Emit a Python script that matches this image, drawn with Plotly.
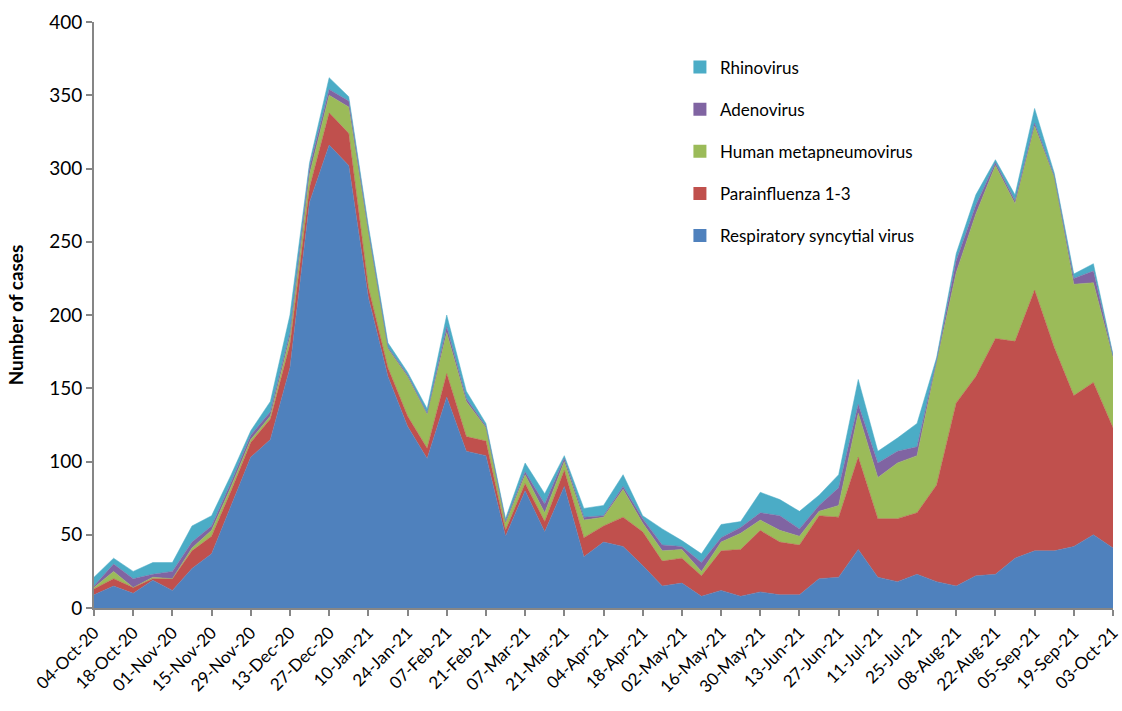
import datetime as dt
import plotly.graph_objects as go

start = dt.date(2020, 10, 4)
weeks = [(start + dt.timedelta(weeks=i)).strftime("%d-%b-%y") for i in range(53)]

rsv = [9, 15, 10, 19, 12, 27, 37, 70, 103, 115, 164, 277, 316, 302, 212, 158, 124, 102, 144, 107,
       104, 49, 80, 52, 83, 35, 45, 42, 29, 15, 17, 8, 12, 8, 11, 9, 9, 20, 21, 40,
       21, 18, 23, 18, 15, 22, 23, 34, 39, 39, 42, 50, 41]
para = [4, 5, 4, 1, 8, 12, 12, 10, 10, 14, 16, 10, 22, 22, 7, 6, 7, 7, 16, 10,
        10, 4, 5, 7, 11, 13, 11, 20, 23, 17, 17, 14, 27, 32, 42, 36, 34, 43, 41, 63,
        40, 43, 42, 66, 125, 136, 161, 148, 178, 139, 103, 104, 82]
hmpv = [1, 5, 0, 1, 0, 2, 4, 3, 2, 2, 5, 9, 12, 18, 37, 13, 27, 23, 28, 24,
        9, 5, 6, 6, 6, 12, 6, 19, 6, 7, 6, 3, 6, 11, 7, 8, 6, 3, 8, 30,
        28, 38, 39, 84, 89, 111, 118, 94, 112, 116, 76, 68, 48]
adeno = [1, 5, 6, 2, 5, 4, 3, 3, 3, 3, 3, 5, 4, 4, 2, 1, 1, 1, 4, 2,
         1, 1, 2, 6, 2, 2, 1, 2, 3, 4, 2, 6, 3, 4, 5, 10, 5, 4, 12, 6,
         10, 8, 6, 1, 8, 6, 2, 2, 2, 1, 4, 8, 1]
rhino = [6, 4, 5, 8, 6, 11, 7, 5, 3, 7, 12, 3, 8, 3, 3, 3, 2, 3, 8, 5,
         2, 2, 6, 7, 2, 6, 7, 8, 2, 11, 4, 6, 9, 4, 14, 11, 12, 7, 9, 17,
         8, 9, 16, 2, 5, 7, 2, 4, 10, 2, 3, 5, 1]

series = [
    ("Respiratory syncytial virus", rsv, "#4F81BD"),
    ("Parainfluenza 1-3", para, "#C0504D"),
    ("Human metapneumovirus", hmpv, "#9BBB59"),
    ("Adenovirus", adeno, "#8064A2"),
    ("Rhinovirus", rhino, "#4BACC6"),
]

FONT = "Lato, 'Open Sans', sans-serif"
fig = go.Figure()
for name, vals, col in series:
    fig.add_trace(go.Scatter(
        x=weeks, y=vals, name=name, stackgroup="one", mode="lines",
        line=dict(width=0.5, color=col), fillcolor=col, showlegend=False,
        hoverinfo="x+y+name"))
for name, vals, col in reversed(series):
    fig.add_trace(go.Scatter(
        x=[None], y=[None], name=name, mode="markers",
        marker=dict(symbol="square", size=13, color=col),
        legendgroup=name, showlegend=True))

fig.update_layout(
    width=1122, height=711,
    margin=dict(l=94, r=9, t=22, b=103),
    paper_bgcolor="white", plot_bgcolor="white",
    font=dict(family=FONT, size=18, color="#000000"),
    legend=dict(x=0.575, y=0.953, xanchor="left", yanchor="top",
                traceorder="grouped", tracegroupgap=17,
                font=dict(size=17, family=FONT), bgcolor="rgba(0,0,0,0)"),
    xaxis=dict(type="category", range=[0, 52], tickmode="array",
               tickvals=weeks[::2], ticktext=weeks[::2], tickangle=-45,
               showline=True, linecolor="#868686", linewidth=2,
               ticks="outside", ticklen=6, tickcolor="#868686", tickwidth=2,
               showgrid=False, zeroline=False, tickfont=dict(size=17),
               automargin=False),
    yaxis=dict(range=[0, 400], dtick=50, showline=True, linecolor="#868686",
               linewidth=2, ticks="outside", ticklen=6, tickcolor="#868686",
               tickwidth=2, showgrid=False, zeroline=False,
               tickfont=dict(size=19), automargin=False,
               title=dict(text="<b>Number of cases</b>", font=dict(size=19),
                          standoff=20)),
)
fig.write_html("out.html", config={"displayModeBar": False},
               post_script="document.body.style.margin='0';document.body.style.overflow='hidden';")
